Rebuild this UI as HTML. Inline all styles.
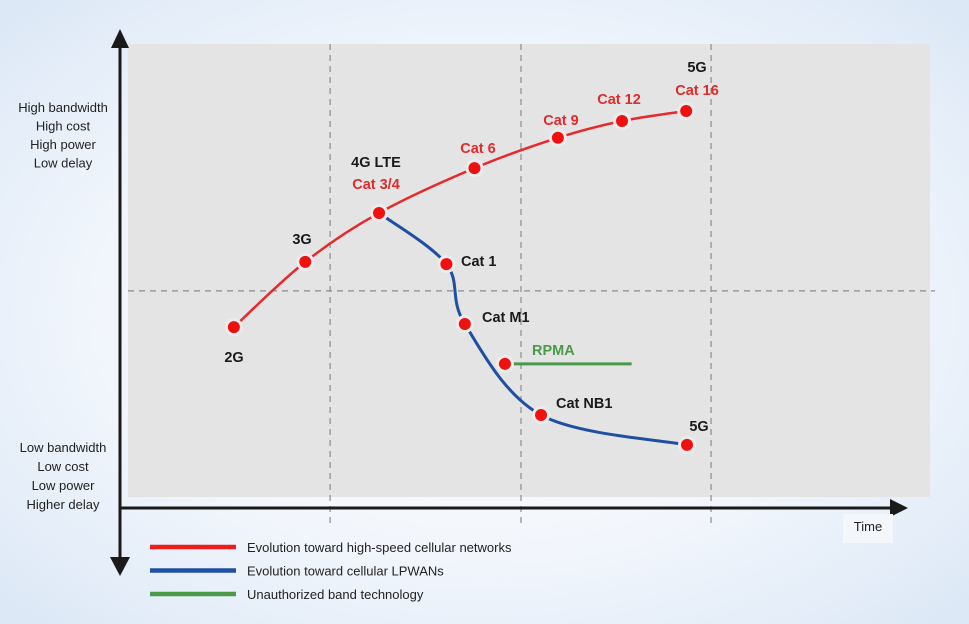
<!DOCTYPE html>
<html><head><meta charset="utf-8"><style>
html,body{margin:0;padding:0}
body{width:969px;height:624px;overflow:hidden;background:radial-gradient(ellipse at 50% 50%,#ffffff 0%,#f2f6fc 55%,#dbe7f6 100%);font-family:"Liberation Sans",sans-serif}
svg{position:absolute;left:0;top:0}
text{font-family:"Liberation Sans",sans-serif}
</style></head><body>
<svg width="969" height="624">
<rect x="128" y="44" width="802" height="453" fill="#e4e4e5"/>
<g id="grid" stroke="#8c8c8c" stroke-width="1.2" stroke-dasharray="6,5" fill="none"></g>
<g id="axes"></g>
<g id="series"></g>
<g id="labels"></g>
<g id="legend"></g>
</svg>
<script>
// data (x: time 0-10, y: performance 0-10)
const redNames=["2G","3G","Cat 3/4","Cat 6","Cat 9","Cat 12","Cat 16"];
const redX=[1.32,2.21,3.13,4.32,5.36,6.16,6.96];
const redY=[3.75,5.19,6.27,7.26,7.93,8.30,8.52];
const blueNames=["Cat 3/4","Cat 1","Cat M1","Cat NB1","5G"];
const blueX=[3.13,3.97,4.20,5.15,6.97];
const blueY=[6.27,5.14,3.82,1.81,1.15];
const greenNames=["RPMA",""];
const greenX=[4.70,6.28];
const greenY=[2.94,2.94];
const gridX=[2.52,4.90,7.27];
const gridY=[4.55];

const NS="http://www.w3.org/2000/svg";
const sx=v=>128+v*80.2, sy=v=>497-v*45.3;
function mk(tag,attrs,parent,txt){const e=document.createElementNS(NS,tag);for(const k in attrs)e.setAttribute(k,attrs[k]);if(txt!==undefined)e.textContent=txt;document.getElementById(parent).appendChild(e);return e;}

gridX.forEach(v=>{const e=mk('line',{x1:sx(v),x2:sx(v),y1:44,y2:525},'grid');

});
gridY.forEach(v=>{const e=mk('line',{x1:128,x2:935,y1:sy(v),y2:sy(v)},'grid');

});

let a=mk('line',{x1:120,y1:40,x2:120,y2:565,stroke:'#1a1a1a','stroke-width':3},'axes');

a=mk('polygon',{points:'111,48 120,29 129,48',fill:'#1a1a1a'},'axes');

a=mk('polygon',{points:'110,557 120,576 130,557',fill:'#1a1a1a'},'axes');

a=mk('line',{x1:120,y1:508,x2:893,y2:508,stroke:'#1a1a1a','stroke-width':3},'axes');

a=mk('polygon',{points:'890,499 908,508 890,517',fill:'#1a1a1a'},'axes');

a=mk('rect',{x:843,y:514,width:50,height:29,fill:'#f3f6fa'},'axes');

a=mk('text',{x:868,y:531,'text-anchor':'middle','font-size':13,fill:'#222'},'axes','Time');


const hi=["High bandwidth","High cost","High power","Low delay"];
hi.forEach((t,i)=>{const e=mk('text',{x:63,y:112+i*18.5,'text-anchor':'middle','font-size':13,fill:'#222'},'axes',t);
});
const lo=["Low bandwidth","Low cost","Low power","Higher delay"];
lo.forEach((t,i)=>{const e=mk('text',{x:63,y:452+i*19,'text-anchor':'middle','font-size':13,fill:'#222'},'axes',t);
});

function curve(xs,ys){const p=xs.map((x,i)=>[sx(x),sy(ys[i])]);let d='M'+p[0][0]+','+p[0][1];
for(let i=0;i<p.length-1;i++){const p0=p[i-1]||p[i],p1=p[i],p2=p[i+1],p3=p[i+2]||p2;
const c1=[p1[0]+(p2[0]-p0[0])/6,p1[1]+(p2[1]-p0[1])/6],c2=[p2[0]-(p3[0]-p1[0])/6,p2[1]-(p3[1]-p1[1])/6];
d+=` C${c1[0]},${c1[1]} ${c2[0]},${c2[1]} ${p2[0]},${p2[1]}`;}return d;}

let s=mk('path',{d:curve(greenX,greenY),stroke:'#4a9a4a','stroke-width':3,fill:'none'},'series');

s=mk('path',{d:curve(blueX,blueY),stroke:'#1f4fa3','stroke-width':3,fill:'none'},'series');

s=mk('path',{d:curve(redX,redY),stroke:'#e8282a','stroke-width':2.5,fill:'none'},'series');


function dot(x,y,name){const e=mk('circle',{cx:sx(x),cy:sy(y),r:7.5,fill:'#f01010',stroke:'#ececec','stroke-width':3},'series');

}
redX.forEach((x,i)=>dot(x,redY[i],'red-point'));
blueX.forEach((x,i)=>{if(i>0)dot(x,blueY[i],'blue-point');});
dot(greenX[0],greenY[0],'rpma-point');

function lab(x,y,t,c,anchor,name){const e=mk('text',{x:x,y:y,'font-size':14.5,'font-weight':'bold',fill:c,'text-anchor':anchor||'start'},'labels',t);

}
const R='#e02b2b',K='#1a1a1a';
lab(234,362,'2G',K,'middle','label-2g');
lab(302,244,'3G',K,'middle','label-3g');
lab(376,167,'4G LTE',K,'middle','label-4g-lte');
lab(376,189,'Cat 3/4',R,'middle','label-cat34');
lab(478,153,'Cat 6',R,'middle','label-cat6');
lab(561,125,'Cat 9',R,'middle','label-cat9');
lab(619,104,'Cat 12',R,'middle','label-cat12');
lab(697,95,'Cat 16',R,'middle','label-cat16');
lab(697,72,'5G',K,'middle','label-5g-top');
lab(461,266,'Cat 1',K,'start','label-cat1');
lab(482,322,'Cat M1',K,'start','label-catm1');
lab(532,355,'RPMA','#4a9a4a','start','label-rpma');
lab(556,408,'Cat NB1',K,'start','label-catnb1');
lab(699,431,'5G',K,'middle','label-5g-bottom');

const legC=['#ee1c1c','#1f4fa3','#4a9a4a'],legT=['Evolution toward high-speed cellular networks','Evolution toward cellular LPWANs','Unauthorized band technology'];
legT.forEach((t,i)=>{const y=547+i*23.5;
const l=mk('line',{x1:150,x2:236,y1:y,y2:y,stroke:legC[i],'stroke-width':4.5},'legend');

const e=mk('text',{x:247,y:y+5,'font-size':13,fill:'#222'},'legend',t);
});
</script>
</body></html>
